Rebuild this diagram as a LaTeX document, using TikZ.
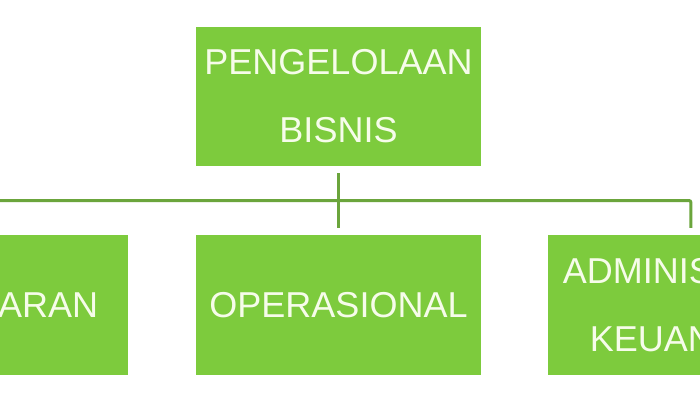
\documentclass[tikz,border=0pt]{standalone}
\usepackage{fontspec}
\setmainfont{Liberation Sans}
\usetikzlibrary{positioning,calc}
\definecolor{boxgreen}{HTML}{7DCB3D}
\definecolor{linegreen}{HTML}{6BA53C}
\definecolor{textcream}{HTML}{F6FCEA}

\begin{document}
\begin{tikzpicture}[
  x=1pt, y=-1pt,
  unit/.style={fill=boxgreen, text=textcream, inner sep=0pt, align=center, minimum width=285pt, minimum height=140pt, font=\fontsize{36}{68}\selectfont},
  link/.style={draw=linegreen, line width=3pt, shorten <=7pt, shorten >=7pt},
]
\clip (0,0) rectangle (700,400);
\fill[white] (0,0) rectangle (700,400);

% --- top level ---
\node[unit, minimum height=139pt] (root) at (338.5, 96.5) {PENGELOLAAN\\BISNIS};

% --- second level ---
\node[unit] (operasional) at (338.5, 305) {OPERASIONAL};
\node[unit, left=68pt of operasional] (pemasaran) {PEMASARAN};
\node[unit, right=67pt of operasional] (adminkeu) {ADMINISTRASI\\KEUANGAN};

% connectors
\coordinate (bus) at ($(root.south)!0.5!(operasional.north)$);
\draw[link] (root) -- (operasional);
\draw[link, rounded corners=2pt] (pemasaran.north) |- (bus) -| (adminkeu.north);
\end{tikzpicture}
\end{document}
